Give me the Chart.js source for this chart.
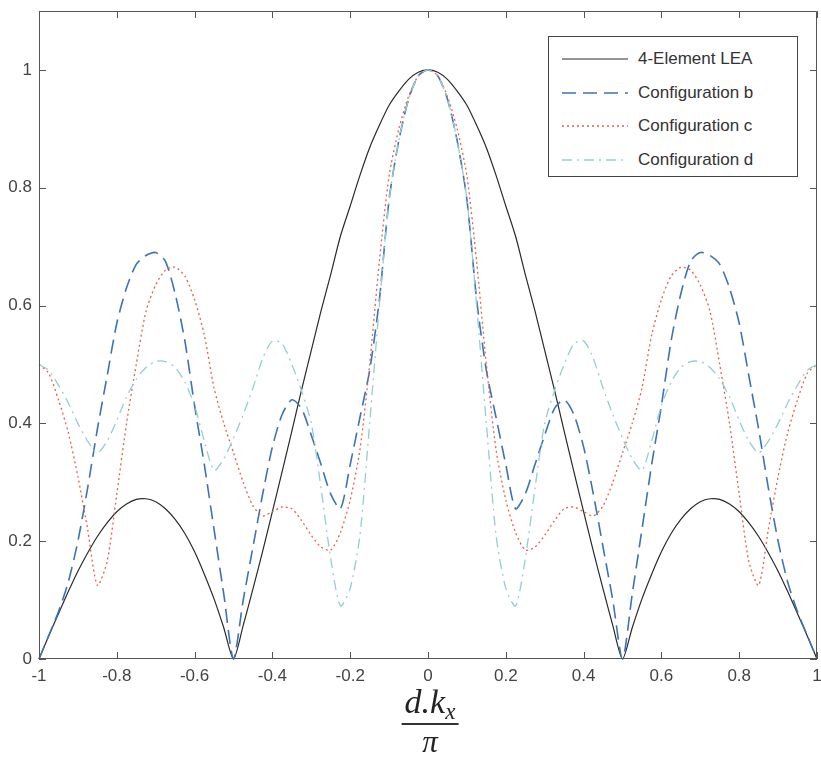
<!DOCTYPE html>
<html>
<head>
<meta charset="utf-8">
<script src="https://cdn.jsdelivr.net/npm/chart.js@4.4.1/dist/chart.umd.min.js"></script>
<style>
  body { margin: 0; background: #fff; }
  #wrap { position: relative; width: 821px; height: 762px; }
  #legend {
    position: absolute; left: 548px; top: 36px; width: 248px; height: 139px;
    border: 1px solid #444; background: #fff;
    font-family: 'Liberation Sans', Arial, sans-serif; font-size: 17px; color: #333;
  }
  .row { position: absolute; left: 0; height: 20px; display: flex; align-items: center; }
  .row svg { margin-left: 13px; margin-right: 10px; }
  #xlabel {
    position: absolute; left: 430px; top: 682px; transform: translateX(-50%);
    text-align: center; font-family: 'Liberation Serif', 'DejaVu Serif', serif;
    font-style: italic; color: #222;
  }
  #xlabel .num { font-size: 34px; line-height: 40px; padding: 0 3px 1px; border-bottom: 2px solid #333; }
  #xlabel .num sub { font-size: 23px; line-height: 0; vertical-align: -6px; }
  #xlabel .den { font-size: 31px; line-height: 34px; }
</style>
</head>
<body>
<div id="wrap">
  <canvas id="chart" width="821" height="762"></canvas>
  <div id="legend"></div>
  <div id="xlabel"><div class="num">d.k<sub>x</sub></div><div class="den">π</div></div>
</div>
<script>
// Normalised array factor vs d.kx/pi
const xs = [
  -1, -0.975, -0.95, -0.925, -0.9, -0.875, -0.85, -0.825, -0.8, -0.775,
  -0.75, -0.725, -0.7, -0.675, -0.65, -0.625, -0.6, -0.575, -0.55, -0.525,
  -0.5, -0.475, -0.45, -0.425, -0.4, -0.375, -0.35, -0.325, -0.3, -0.275,
  -0.25, -0.225, -0.2, -0.175, -0.15, -0.125, -0.1, -0.075, -0.05, -0.025,
  0,
  0.025, 0.05, 0.075, 0.1, 0.125, 0.15, 0.175, 0.2, 0.225, 0.25,
  0.275, 0.3, 0.325, 0.35, 0.375, 0.4, 0.425, 0.45, 0.475, 0.5,
  0.525, 0.55, 0.575, 0.6, 0.625, 0.65, 0.675, 0.7, 0.725, 0.75,
  0.775, 0.8, 0.825, 0.85, 0.875, 0.9, 0.925, 0.95, 0.975, 1
];

const lea = [
  0, 0.039, 0.077, 0.114, 0.149, 0.180, 0.208, 0.231, 0.250, 0.263,
  0.271, 0.272, 0.267, 0.255, 0.237, 0.213, 0.182, 0.144, 0.102, 0.053,
  0, 0.057, 0.119, 0.183, 0.250, 0.318, 0.387, 0.457, 0.524, 0.591,
  0.653, 0.718, 0.769, 0.821, 0.868, 0.906, 0.940, 0.964, 0.984, 0.996,
  1,
  0.996, 0.984, 0.964, 0.940, 0.906, 0.868, 0.821, 0.769, 0.718, 0.653,
  0.591, 0.524, 0.457, 0.387, 0.318, 0.250, 0.183, 0.119, 0.057, 0,
  0.053, 0.102, 0.144, 0.182, 0.213, 0.237, 0.255, 0.267, 0.272, 0.271,
  0.263, 0.250, 0.231, 0.208, 0.180, 0.149, 0.114, 0.077, 0.039, 0
];

const configB = [
  0, 0.04, 0.08, 0.13, 0.20, 0.29, 0.39, 0.48, 0.57, 0.63,
  0.67, 0.685, 0.69, 0.675, 0.62, 0.54, 0.43, 0.33, 0.22, 0.11,
  0, 0.10, 0.19, 0.28, 0.36, 0.415, 0.44, 0.425, 0.38, 0.33,
  0.28, 0.255, 0.33, 0.41, 0.49, 0.61, 0.78, 0.88, 0.95, 0.99,
  1,
  0.99, 0.95, 0.88, 0.78, 0.61, 0.49, 0.41, 0.33, 0.255, 0.28,
  0.33, 0.38, 0.425, 0.44, 0.415, 0.36, 0.28, 0.19, 0.10, 0,
  0.11, 0.22, 0.33, 0.43, 0.54, 0.62, 0.675, 0.69, 0.685, 0.67,
  0.63, 0.57, 0.48, 0.39, 0.29, 0.20, 0.13, 0.08, 0.04, 0
];

const configC = [
  0.50, 0.485, 0.44, 0.385, 0.31, 0.22, 0.125, 0.165, 0.28, 0.40,
  0.50, 0.59, 0.635, 0.66, 0.665, 0.65, 0.61, 0.55, 0.46, 0.40,
  0.35, 0.30, 0.26, 0.243, 0.25, 0.258, 0.255, 0.235, 0.21, 0.19,
  0.185, 0.215, 0.27, 0.355, 0.50, 0.675, 0.82, 0.90, 0.955, 0.99,
  1,
  0.99, 0.955, 0.90, 0.82, 0.675, 0.50, 0.355, 0.27, 0.215, 0.185,
  0.19, 0.21, 0.235, 0.255, 0.258, 0.25, 0.243, 0.26, 0.30, 0.35,
  0.40, 0.46, 0.55, 0.61, 0.65, 0.665, 0.66, 0.635, 0.59, 0.50,
  0.40, 0.28, 0.165, 0.125, 0.22, 0.31, 0.385, 0.44, 0.485, 0.50
];

const configD = [
  0.50, 0.49, 0.465, 0.435, 0.40, 0.37, 0.35, 0.37, 0.405, 0.445,
  0.475, 0.495, 0.505, 0.505, 0.495, 0.47, 0.43, 0.37, 0.32, 0.34,
  0.375, 0.415, 0.46, 0.51, 0.54, 0.535, 0.50, 0.455, 0.40, 0.29,
  0.17, 0.09, 0.12, 0.21, 0.40, 0.60, 0.78, 0.88, 0.95, 0.99,
  1,
  0.99, 0.95, 0.88, 0.78, 0.60, 0.40, 0.21, 0.12, 0.09, 0.17,
  0.29, 0.40, 0.455, 0.50, 0.535, 0.54, 0.51, 0.46, 0.415, 0.375,
  0.34, 0.32, 0.37, 0.43, 0.47, 0.495, 0.505, 0.505, 0.495, 0.475,
  0.445, 0.405, 0.37, 0.35, 0.37, 0.40, 0.435, 0.465, 0.49, 0.50
];

const seriesNames = ['4-Element LEA', 'Configuration b', 'Configuration c', 'Configuration d'];
const xTicks = [-1, -0.8, -0.6, -0.4, -0.2, 0, 0.2, 0.4, 0.6, 0.8, 1];
const xTickLabels = ['-1', '-0.8', '-0.6', '-0.4', '-0.2', '0', '0.2', '0.4', '0.6', '0.8', '1'];
const yTicks = [0, 0.2, 0.4, 0.6, 0.8, 1];
const yTickLabels = ['0', '0.2', '0.4', '0.6', '0.8', '1'];

const styles = [
  { color: '#2a2a2a', dash: [], width: 1.2 },
  { color: '#3c73b4', dash: [14, 7], width: 1.6 },
  { color: '#e0614e', dash: [2, 3], width: 1.3 },
  { color: '#94cdd2', dash: [10, 5, 2, 5], width: 1.3 }
];

const toPoints = ys => xs.map((x, i) => ({ x: x, y: ys[i] }));
const allSeries = [lea, configB, configC, configD];

const datasets = allSeries.map((ys, i) => ({
  label: seriesNames[i],
  data: toPoints(ys),
  borderColor: styles[i].color,
  borderDash: styles[i].dash,
  borderWidth: styles[i].width,
  pointRadius: 0,
  tension: 0.25,
  fill: false,
  clip: false,
  order: allSeries.length - i   // later series on top, as in the original
}));

// Box round the plot and inward tick marks on all four sides
const boxPlugin = {
  id: 'boxPlugin',
  afterDatasetsDraw(chart) {
    const { ctx, chartArea: a, scales } = chart;
    const len = 7;
    ctx.save();
    ctx.strokeStyle = '#555';
    ctx.lineWidth = 1;
    ctx.beginPath();
    ctx.rect(Math.round(a.left) + 0.5, Math.round(a.top) + 0.5,
             Math.round(a.right - a.left) - 1, Math.round(a.bottom - a.top) - 1);
    scales.x.ticks.forEach(t => {
      const px = Math.round(scales.x.getPixelForValue(t.value)) + 0.5;
      ctx.moveTo(px, a.bottom); ctx.lineTo(px, a.bottom - len);
      ctx.moveTo(px, a.top); ctx.lineTo(px, a.top + len);
    });
    scales.y.ticks.forEach(t => {
      const py = Math.round(scales.y.getPixelForValue(t.value)) + 0.5;
      ctx.moveTo(a.left, py); ctx.lineTo(a.left + len, py);
      ctx.moveTo(a.right, py); ctx.lineTo(a.right - len, py);
    });
    ctx.stroke();
    ctx.restore();
  }
};

const tickFont = { family: "'Liberation Sans', Arial, sans-serif", size: 17 };

const chart = new Chart(document.getElementById('chart'), {
  type: 'line',
  data: { datasets: datasets },
  options: {
    responsive: false,
    animation: false,
    layout: { padding: { left: 0, right: 4, top: 11, bottom: 63 } },
    plugins: { legend: { display: false }, tooltip: { enabled: false } },
    scales: {
      x: {
        type: 'linear', min: -1, max: 1,
        grid: { display: false, drawTicks: false },
        border: { display: false },
        afterBuildTicks: s => { s.ticks = xTicks.map(v => ({ value: v })); },
        afterFit: s => { s.height = 40; s.paddingLeft = 0; s.paddingRight = 0; },
        ticks: {
          color: '#444', font: tickFont, padding: 7, maxRotation: 0, autoSkip: false,
          callback: v => xTickLabels[xTicks.indexOf(v)]
        }
      },
      y: {
        min: 0, max: 1.1,
        grid: { display: false, drawTicks: false },
        border: { display: false },
        afterBuildTicks: s => { s.ticks = yTicks.map(v => ({ value: v })); },
        afterFit: s => { s.width = 39; s.paddingTop = 0; s.paddingBottom = 0; },
        ticks: {
          color: '#444', font: tickFont, padding: 7, autoSkip: false,
          callback: v => yTickLabels[yTicks.indexOf(v)]
        }
      }
    }
  },
  plugins: [boxPlugin]
});

// Legend box with line samples
function buildLegend() {
  const box = document.getElementById('legend');
  datasets.forEach((ds, i) => {
    const row = document.createElement('div');
    row.className = 'row';
    row.style.top = (12 + i * 33.5) + 'px';
    row.innerHTML =
      `<svg width="66" height="4"><line x1="0" y1="2" x2="66" y2="2" stroke="${ds.borderColor}"
        stroke-width="${ds.borderWidth}" stroke-dasharray="${ds.borderDash.join(' ')}"/></svg>
       <span>${ds.label}</span>`;
    box.appendChild(row);
  });
}
buildLegend();
</script>
</body>
</html>
